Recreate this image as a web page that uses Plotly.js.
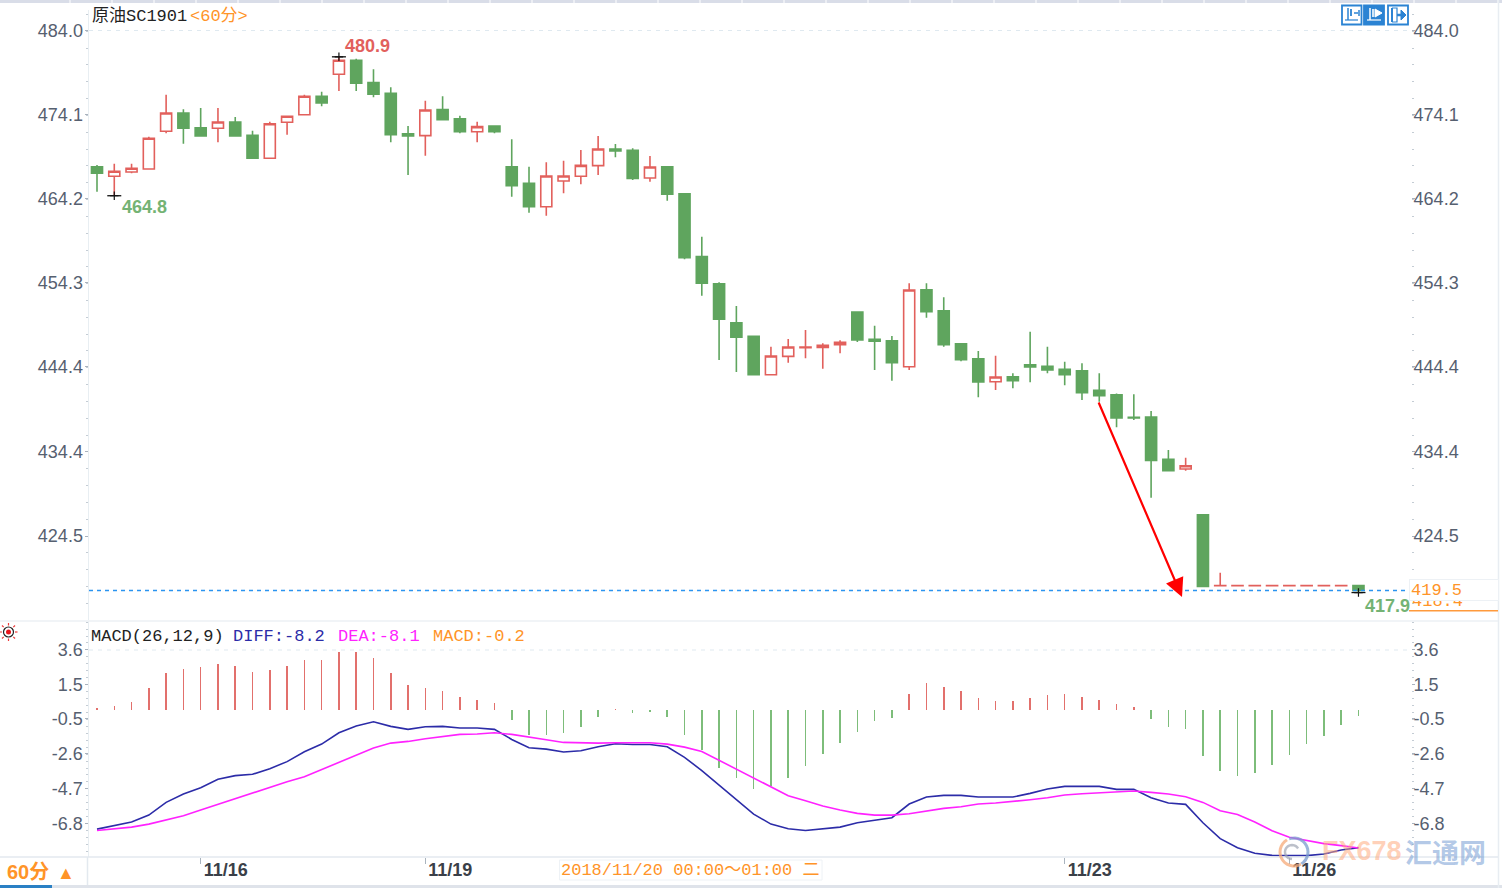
<!DOCTYPE html>
<html><head><meta charset="utf-8">
<script src="https://cdn.plot.ly/plotly-3.0.1.min.js"></script>
<style>html,body{margin:0;padding:0;background:#fff}#c{width:1502px;height:888px}</style>
</head><body><div id="c"></div>
<script>
const barOpen=[467.97,466.84,467.35,467.7,472.14,474.29,472.56,472.49,473.23,471.67,468.96,473.2,474.09,476.26,478.84,480.49,477.86,476.61,471.85,471.62,474.68,473.62,472.09,472.76,467.97,466.02,463.26,466.29,466.84,468.09,470.05,469.9,466.64,467.97,464.79,457.38,454.2,449.61,448.01,443.49,445.65,446.68,446.71,447.02,450.87,447.66,447.49,444.43,453.49,451.02,447.14,445.37,442.66,443.25,444.66,444.48,444.12,443.96,441.65,441.13,438.47,438.51,433.53,432.39,426.99,418.65,418.65,418.65,418.65,418.65,418.65,418.65,418.65,418.66];
const barHigh=[468.17,468.32,468.32,471.5,476.44,474.73,474.88,474.88,473.82,472.21,473.27,473.97,476.44,476.8,480.9,480.68,479.43,477.31,472.76,475.74,476.26,473.97,473.27,472.76,471.19,467.97,468.49,468.68,469.93,471.58,470.64,470.14,469.23,467.97,464.84,459.73,454.36,451.57,448.01,446.78,447.69,448.75,447.18,447.54,450.87,449.26,448.04,454.25,454.25,452.6,447.18,446.28,445.73,443.65,448.55,446.78,445.02,444.83,443.65,441.28,441.18,439.22,434.63,433.72,426.99,420.18,418.66,418.66,418.66,418.66,418.66,418.66,418.66,418.66];
const barLow=[465.03,464.6,467.19,467.7,471.9,470.68,471.58,470.84,471.58,468.96,468.96,471.74,474.09,475.08,476.88,476.88,476.14,470.84,466.99,469.26,473.5,471.9,470.84,471.9,464.44,462.56,462.2,464.84,465.9,466.99,469.08,466.4,466.2,463.97,457.07,452.79,445.22,443.81,443.49,443.49,444.9,445.42,444.19,446.01,447.34,444.04,442.78,444.04,450.2,446.78,445.07,440.83,441.69,441.89,442.59,443.65,442.24,440.51,440.31,437.3,438.16,429.01,432.19,432.19,418.58,418.65,418.65,418.65,418.65,418.65,418.65,418.65,418.65,417.9];
const barClose=[467.19,467.43,467.78,471.31,474.29,472.49,471.58,473.23,471.58,468.96,473.03,473.9,476.26,475.47,480.49,477.79,476.49,471.74,471.58,474.64,473.5,472.09,472.68,472.09,465.73,463.26,466.87,466.87,468.13,470.05,469.82,466.6,467.93,464.72,457.26,454.25,450.01,447.89,443.49,445.69,446.75,446.75,446.95,447.3,447.57,447.42,444.9,453.46,450.9,447.02,445.25,442.63,443.22,442.78,444.39,444.04,443.49,441.37,441.02,438.39,438.39,433.41,432.19,432.78,418.58,418.66,418.66,418.66,418.66,418.66,418.66,418.66,418.66,418.11];
const macdBars=[0.12,0.22,0.48,1.3,2.2,2.45,2.55,2.73,2.63,2.28,2.37,2.63,3.0,3.0,3.45,3.45,3.1,2.2,1.48,1.3,1.12,0.76,0.58,0.4,-0.58,-1.48,-1.5,-1.4,-1.04,-0.4,0.08,-0.2,-0.12,-0.4,-1.5,-2.4,-3.45,-4.09,-4.7,-4.55,-4.09,-3.37,-2.63,-2.0,-1.3,-0.66,-0.5,0.96,1.6,1.4,1.16,0.7,0.52,0.52,0.7,0.88,0.98,0.8,0.62,0.34,0.16,-0.56,-1.04,-1.12,-2.77,-3.67,-3.93,-3.77,-3.31,-2.69,-2.06,-1.54,-0.9,-0.38];
const diffLine=[-7.13,-6.91,-6.71,-6.29,-5.53,-5.03,-4.65,-4.15,-3.93,-3.85,-3.51,-3.09,-2.5,-2.04,-1.36,-0.96,-0.7,-0.98,-1.16,-1.0,-0.98,-1.08,-1.08,-1.16,-1.76,-2.26,-2.34,-2.51,-2.44,-2.2,-2.02,-2.06,-2.06,-2.2,-2.83,-3.63,-4.49,-5.39,-6.23,-6.83,-7.11,-7.21,-7.13,-7.01,-6.75,-6.59,-6.45,-5.63,-5.21,-5.11,-5.11,-5.21,-5.21,-5.21,-4.99,-4.73,-4.57,-4.57,-4.57,-4.75,-4.75,-5.25,-5.57,-5.65,-6.75,-7.7,-8.24,-8.58,-8.7,-8.72,-8.72,-8.62,-8.38,-8.24];
const deaLine=[-7.21,-7.09,-7.01,-6.83,-6.59,-6.33,-5.99,-5.65,-5.29,-4.97,-4.65,-4.29,-3.99,-3.57,-3.13,-2.69,-2.28,-1.98,-1.88,-1.72,-1.6,-1.46,-1.44,-1.36,-1.46,-1.6,-1.78,-1.94,-1.98,-1.98,-1.96,-1.96,-1.96,-2.04,-2.22,-2.48,-3.01,-3.51,-4.07,-4.61,-5.13,-5.43,-5.75,-5.99,-6.19,-6.29,-6.29,-6.21,-6.05,-5.89,-5.79,-5.63,-5.57,-5.49,-5.37,-5.25,-5.09,-5.01,-4.95,-4.91,-4.85,-4.93,-5.03,-5.19,-5.53,-6.03,-6.25,-6.71,-7.23,-7.62,-7.8,-8.0,-8.12,-8.26];
const priceTicks=[484.0,474.1,464.2,454.3,444.4,434.4,424.5];
const priceLabels=["484.0","474.1","464.2","454.3","444.4","434.4","424.5"];
const macdTicks=[3.6,1.5,-0.5,-2.6,-4.7,-6.8];
const macdLabels=["3.6","1.5","-0.5","-2.6","-4.7","-6.8"];
const dateTickIndex=[6,19,56,69];
const dateLabels=["11/16","11/19","11/23","11/26"];
const extremeIndex=[14,1,73];
const extremeValue=[480.9,464.55,417.85];
const currentLevel=418.1;

const W=1502,H=888;
const px=v=>v/W, py=v=>1-v/H;
const idx=barOpen.map((_,i)=>i);
const UP='#e2605c',DOWN='#5fa55e',ORANGE='#ff9428',MONO='"Liberation Mono","Noto Sans CJK SC",monospace',SANS='"Liberation Sans","Noto Sans CJK SC",sans-serif';

const shapes=[];
const rect=(x0,y0,x1,y1,fill,line,lw)=>shapes.push({type:'rect',xref:'paper',yref:'paper',x0:px(x0),x1:px(x1),y0:py(y0),y1:py(y1),fillcolor:fill||'rgba(0,0,0,0)',line:{color:line||'rgba(0,0,0,0)',width:lw||0},layer:'above'});
const seg=(x0,y0,x1,y1,c,w,dash)=>shapes.push({type:'line',xref:'paper',yref:'paper',x0:px(x0),x1:px(x1),y0:py(y0),y1:py(y1),line:{color:c,width:w||1,dash:dash||'solid'},layer:'above'});
const path=(pts,c,w,fill)=>shapes.push({type:'path',xref:'paper',yref:'paper',path:'M'+pts.map(p=>px(p[0])+','+py(p[1])).join(' L')+(fill?' Z':''),line:{color:c,width:w||1},fillcolor:fill||'rgba(0,0,0,0)',layer:'above'});
const arc=(cx,cy,r,a0,a1)=>{const o=[];for(let a=a0;a<=a1;a+=12){o.push([cx+r*Math.cos(a*Math.PI/180),cy+r*Math.sin(a*Math.PI/180)]);}return o;};

// page chrome
rect(0,0,W,3,'#d9dde8');
for(let x=70;x<W;x+=42) seg(x,0,x,3,'#ffffff',1);
rect(0,885,W,888,'#dfe3ea');
rect(0,885,52,888,'#2a80c4');
seg(1498.5,0,1498.5,888,'#e8edf2',1.5);
seg(0,621,1498,621,'#edf1f5',1.5);
seg(0,857,1498,857,'#e3e9ef',1.5);
seg(87.5,857,87.5,885,'#e3e9ef',1.5);
seg(89,30.5,1411,30.5,'#dfe9f0',1,'4px,5px');
seg(89,650,1411,650,'#dfe9f0',1,'4px,5px');
// level line and overlay box rule
shapes.push({type:'line',xref:'paper',yref:'y',x0:px(89),x1:px(1409),y0:currentLevel,y1:currentLevel,line:{color:'#2a94f0',width:1.5,dash:'4px,4px'},layer:'above'});
seg(1409,610.7,1498,610.7,'#ff9a3c',1.5);
// date box
rect(559.5,860,822,880,'#ffffff','#eef2f6',1);
// sun icon
shapes.push({type:'circle',xref:'paper',yref:'paper',x0:px(3.5),x1:px(13.5),y0:py(627),y1:py(637),line:{color:'#222',width:1.2},fillcolor:'#fff',layer:'above'});
shapes.push({type:'circle',xref:'paper',yref:'paper',x0:px(6),x1:px(11),y0:py(629.5),y1:py(634.5),line:{color:'#e8141a',width:0},fillcolor:'#e8141a',layer:'above'});
[[0,-9,0,-6.5],[0,6.5,0,9],[-9,0,-6.5,0],[6.5,0,9,0],[-6.5,-6.5,-4.8,-4.8],[4.8,4.8,6.5,6.5],[-6.5,6.5,-4.8,4.8],[4.8,-4.8,6.5,-6.5]].forEach(s=>seg(8.5+s[0],632+s[1],8.5+s[2],632+s[3],'#ee3a3a',1.2));
// toolbar icons
const BLUE='#2b83d3';
rect(1342,5.5,1361.5,24.5,'#ffffff',BLUE,1.8);
rect(1364,5.5,1384,24.5,BLUE,BLUE,1.8);
rect(1388,5.5,1408,24.5,'#ffffff',BLUE,1.8);
path([[1345,20],[1358,20]],BLUE,1.2);path([[1348,8],[1348,20]],BLUE,1.5);path([[1351,9],[1351,16]],BLUE,1.8);path([[1359,10],[1359,16]],BLUE,1.5);path([[1354,13],[1358,13]],BLUE,1.5);
path([[1367,20],[1381,20]],'#fff',1.2);path([[1370,8],[1370,20]],'#fff',1.5);path([[1373,9],[1373,17]],'#fff',1.6);path([[1375,9],[1382,13],[1375,17]],'#fff',1,'#fff');
path([[1392,8],[1392,22]],BLUE,2);path([[1392,8],[1397,8],[1397,22],[1392,22]],BLUE,1.2);path([[1397,15],[1402,15]],BLUE,2.5);path([[1401,10],[1406,15],[1401,20]],BLUE,1,BLUE);
// watermark logo
path(arc(1294,852,14,60,250),'rgba(245,170,120,.75)',3);
path(arc(1294,852,14,250,420),'rgba(120,155,205,.75)',3);
path(arc(1292,852,7,90,340),'rgba(160,165,180,.7)',2.5);

const ann=[];
const T=(text,x,y,color,size,family,extra)=>ann.push(Object.assign({xref:'paper',yref:'paper',x:px(x),y:py(y),text,showarrow:false,xanchor:'left',yanchor:'middle',align:'left',borderpad:0,borderwidth:0,font:{color,size,family}},extra||{}));
T('原油SC1901',92,15.5,'#222',17,MONO);
T('&lt;60分&gt;',190,15.5,ORANGE,17,MONO);
T('MACD(26,12,9)',91,636,'#222',17,MONO);
T('DIFF:-8.2',233,636,'#2c2ca8',17,MONO);
T('DEA:-8.1',338,636,'#ff22ff',17,MONO);
T('MACD:-0.2',433,636,ORANGE,17,MONO);
T('<b>480.9</b>',345,46,'#e2605c',18,SANS);
T('<b>464.8</b>',122,207,'#74b374',18,SANS);
T('<b>417.9</b>',1365,606,'#74b374',18,SANS);
T('<b>60分</b>',7,872,ORANGE,20,SANS);
T('▲',57,873,ORANGE,18,SANS);
T('2018/11/20 00:00～01:00 二',561,870,ORANGE,17,MONO);
T('418.4',1412,601,ORANGE,17,MONO);
T('419.5',1409,590,ORANGE,17,MONO,{bgcolor:'#ffffff',bordercolor:'#edf1f5',borderwidth:1,borderpad:1,width:86,height:18});
T('<b>FX678</b>',1322,851,'rgba(255,170,125,.55)',27,SANS);
T('<b>汇通网</b>',1405,851,'rgba(115,155,210,.55)',27,'"Noto Sans CJK SC",sans-serif');
ann.push({xref:'paper',yref:'paper',axref:'pixel',ayref:'pixel',x:px(1182),y:py(597),ax:-84,ay:-196,text:'',showarrow:true,arrowhead:2,arrowsize:1.7,arrowwidth:2.2,arrowcolor:'#ff0000',standoff:0});

const traces=[
 {type:'candlestick',x:idx,open:barOpen,high:barHigh,low:barLow,close:barClose,xaxis:'x',yaxis:'y',whiskerwidth:0,
  increasing:{line:{color:UP,width:1.6},fillcolor:'#ffffff'},decreasing:{line:{color:DOWN,width:1.6},fillcolor:DOWN},hoverinfo:'skip'},
 {type:'scatter',mode:'markers',x:extremeIndex,y:extremeValue,xaxis:'x',yaxis:'y',marker:{symbol:'line-ew',size:10,line:{color:'#111',width:1.3}},hoverinfo:'skip'},
 {type:'scatter',mode:'markers',x:extremeIndex,y:extremeValue,xaxis:'x',yaxis:'y',marker:{symbol:'cross-thin',size:6,line:{color:'#111',width:1.2}},hoverinfo:'skip'},
 {type:'bar',x:idx,y:macdBars,xaxis:'x',yaxis:'y3',width:0.09,marker:{color:macdBars.map(v=>v>=0?'#e2706c':'#7dbd7a'),line:{width:0}},hoverinfo:'skip'},
 {type:'scatter',mode:'lines',x:idx,y:diffLine,xaxis:'x',yaxis:'y3',line:{color:'#2c2ca8',width:1.6},hoverinfo:'skip'},
 {type:'scatter',mode:'lines',x:idx,y:deaLine,xaxis:'x',yaxis:'y3',line:{color:'#ff22ff',width:1.6},hoverinfo:'skip'},
 // same series on the right-hand axes, so that those axes get drawn
 {type:'scatter',mode:'lines',x:idx,y:barClose,xaxis:'x',yaxis:'y2',opacity:0,line:{width:0},hoverinfo:'skip'},
 {type:'scatter',mode:'lines',x:idx,y:deaLine,xaxis:'x',yaxis:'y4',opacity:0,line:{width:0},hoverinfo:'skip'}
];
const tickFont={family:SANS,size:18,color:'#566070'};
const priceRange=[414.62,486.41],macdRange=[-8.80,5.33];
const priceDomain=[py(620),py(10)],macdDomain=[py(857),py(621)];
const yBase=(ticks,labels,range,domain,minorD,minor0)=>({range,domain,tickmode:'array',tickvals:ticks,ticktext:labels,tickfont:tickFont,ticks:'outside',ticklen:3,tickcolor:'#a9b2bd',tickwidth:1,ticklabelstandoff:-2,showgrid:false,zeroline:false,fixedrange:true,
  minor:{tick0:minor0,dtick:minorD,ticks:'outside',ticklen:2,tickcolor:'#c4ccd4',tickwidth:1,showgrid:false}});
const layout={width:W,height:H,margin:{l:0,r:0,t:0,b:0},paper_bgcolor:'#fff',plot_bgcolor:'#fff',showlegend:false,hovermode:false,bargap:0,boxgap:0.2,boxgroupgap:0.2,
 xaxis:{domain:[px(89),px(1411)],range:[-0.463,76.04],anchor:'y3',tickmode:'array',tickvals:dateTickIndex,ticktext:dateLabels.map(s=>'<b>'+s+'</b>'),ticklabelshift:25,ticklabelstandoff:-10,ticks:'outside',ticklen:6,tickcolor:'#aab4be',tickwidth:1,showline:false,showgrid:false,zeroline:false,fixedrange:true,rangeslider:{visible:false},tickfont:{family:SANS,size:18,color:'#3a3f48'}},
 yaxis:Object.assign(yBase(priceTicks,priceLabels,priceRange,priceDomain,1.98,424.5),{anchor:'x',side:'left',showline:true,linecolor:'#e8eef2',linewidth:1.5}),
 yaxis2:Object.assign(yBase(priceTicks,priceLabels,priceRange,priceDomain,1.98,424.5),{anchor:'x',side:'right',overlaying:'y',ticklabelstandoff:-5}),
 yaxis3:Object.assign(yBase(macdTicks,macdLabels,macdRange,macdDomain,0.416,-6.8),{anchor:'x',side:'left',showline:true,linecolor:'#e8eef2',linewidth:1.5}),
 yaxis4:Object.assign(yBase(macdTicks,macdLabels,macdRange,macdDomain,0.416,-6.8),{anchor:'x',side:'right',overlaying:'y3',ticklabelstandoff:-5}),
 shapes,annotations:ann};
Plotly.newPlot('c',traces,layout,{displayModeBar:false,staticPlot:true});
</script></body></html>
